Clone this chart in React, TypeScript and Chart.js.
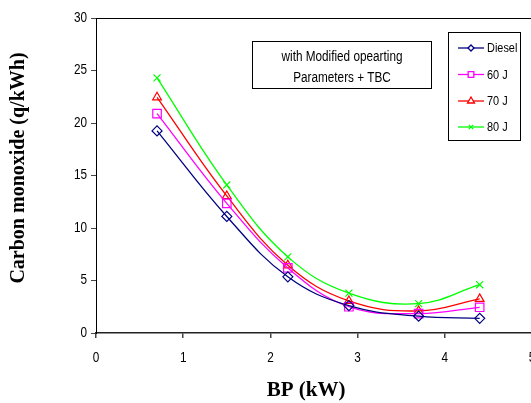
import React, { useEffect, useRef } from "react";
import { Chart, registerables } from "chart.js";
import { drawPoint } from "chart.js/helpers";

Chart.register(...registerables);

// ---- Data ----
const bp = [0.7, 1.5, 2.2, 2.9, 3.7, 4.4];
const diesel = [19.25, 11.1, 5.35, 2.6, 1.6, 1.4];
const j60 = [20.9, 12.35, 6.2, 2.5, 1.85, 2.45];
const j70 = [22.45, 13.05, 6.45, 3.05, 2.1, 3.25];
const j80 = [24.3, 14.1, 7.25, 3.8, 2.8, 4.6];
const seriesNames = ["Diesel", "60 J", "70 J", "80 J"];
const xTicks = [0, 1, 2, 3, 4, 5];
const yTicks = [0, 5, 10, 15, 20, 25, 30];
const annotationLines = ["with Modified opearting", "Parameters + TBC"];
const xTitle = "BP (kW)";
const yTitle = "Carbon monoxide (q/kWh)";

const SANS = "'Liberation Sans', Arial, sans-serif";
const SERIF = "'Liberation Serif', 'Times New Roman', serif";
const NARROW_SCALE = 0.84;

const styles = [
  { color: "#000080", pointStyle: "rectRot", radius: 5, legendRadius: 3 },
  { color: "#FF00FF", pointStyle: "rect", radius: 6, legendRadius: 4 },
  { color: "#FF0000", pointStyle: "triangle", radius: 5, legendRadius: 4 },
  { color: "#00FF00", pointStyle: "crossRot", radius: 5, legendRadius: 3 },
];

const seriesValues = [diesel, j60, j70, j80];

function narrowText(ctx: CanvasRenderingContext2D, text: string, x: number, y: number, align: CanvasTextAlign) {
  ctx.save();
  ctx.translate(x, y);
  ctx.scale(NARROW_SCALE, 1);
  ctx.textAlign = align;
  ctx.fillText(text, 0, 0);
  ctx.restore();
}

const overlayPlugin = {
  id: "overlay",
  afterDraw(chart: any) {
    const ctx = chart.ctx as CanvasRenderingContext2D;
    const a = chart.chartArea;
    const xs = chart.scales.x;
    const ys = chart.scales.y;
    ctx.save();
    // plot frame (top / right)
    ctx.strokeStyle = "#000";
    ctx.lineWidth = 1;
    ctx.beginPath();
    ctx.moveTo(a.left, a.top + 0.5);
    ctx.lineTo(a.right, a.top + 0.5);
    ctx.lineTo(a.right, a.bottom);
    ctx.stroke();

    // tick labels (narrow)
    ctx.fillStyle = "#000";
    ctx.font = `14px ${SANS}`;
    ctx.textBaseline = "middle";
    yTicks.forEach((v) => narrowText(ctx, String(v), 87, ys.getPixelForValue(v), "right"));
    xTicks.forEach((v) => narrowText(ctx, String(v), xs.getPixelForValue(v), 358, "center"));

    // axis titles
    ctx.font = `bold 21px ${SERIF}`;
    ctx.textAlign = "center";
    ctx.fillText(xTitle, 306, 391);
    ctx.save();
    ctx.translate(19, 168);
    ctx.rotate(-Math.PI / 2);
    ctx.font = `bold 20px ${SERIF}`;
    ctx.fillText(yTitle, 0, 0);
    ctx.restore();

    // annotation box
    ctx.lineWidth = 1;
    ctx.strokeStyle = "#000";
    ctx.fillStyle = "#fff";
    ctx.fillRect(252, 41, 180, 47);
    ctx.strokeRect(252.5, 41.5, 179, 47);
    ctx.fillStyle = "#000";
    ctx.font = `14px ${SANS}`;
    narrowText(ctx, annotationLines[0], 342, 57, "center");
    narrowText(ctx, annotationLines[1], 342, 78, "center");

    // legend box
    ctx.fillStyle = "#fff";
    ctx.fillRect(448, 32, 73, 109);
    ctx.strokeStyle = "#000";
    ctx.strokeRect(448.5, 32.5, 72, 108);
    const ly = [48, 74.5, 101, 127];
    ctx.font = `13px ${SANS}`;
    seriesNames.forEach((name, i) => {
      const s = styles[i];
      const y = ly[i];
      ctx.strokeStyle = s.color;
      ctx.lineWidth = 1.3;
      ctx.beginPath();
      ctx.moveTo(458, y);
      ctx.lineTo(484, y);
      ctx.stroke();
      ctx.fillStyle = "#fff";
      drawPoint(ctx, { pointStyle: s.pointStyle, radius: s.legendRadius, rotation: 0, borderWidth: 1.2 } as any, 471, y);
      ctx.fillStyle = "#000";
      narrowText(ctx, name, 487, y + 0.5, "left");
    });
    ctx.restore();
  },
};

export default function App() {
  const ref = useRef<HTMLCanvasElement | null>(null);
  useEffect(() => {
    if (!ref.current) return;
    const chart = new Chart(ref.current, {
      type: "line",
      data: {
        datasets: seriesNames.map((name, i) => ({
          label: name,
          data: bp.map((x, k) => ({ x, y: seriesValues[i][k] })),
          borderColor: styles[i].color,
          backgroundColor: "rgba(255,255,255,0)",
          pointBorderColor: styles[i].color,
          pointBackgroundColor: "rgba(255,255,255,0)",
          pointStyle: styles[i].pointStyle as any,
          pointRadius: styles[i].radius,
          pointBorderWidth: 1.2,
          borderWidth: 1.3,
          tension: 0.4,
          fill: false,
        })),
      },
      options: {
        animation: false,
        responsive: false,
        devicePixelRatio: 1,
        layout: { padding: { left: 0, top: 18, right: 8, bottom: 0 } },
        plugins: { legend: { display: false }, tooltip: { enabled: false } },
        scales: {
          x: {
            type: "linear",
            min: 0,
            max: 5,
            afterBuildTicks: (s: any) => { s.ticks = xTicks.map((v) => ({ value: v })); },
            afterFit: (s: any) => { s.height = 70; },
            grid: { drawOnChartArea: false, tickLength: 5, color: "#444", lineWidth: 1.5 },
            border: { color: "#222", width: 1.5 },
            ticks: { display: false },
          },
          y: {
            type: "linear",
            min: 0,
            max: 30,
            afterBuildTicks: (s: any) => { s.ticks = yTicks.map((v) => ({ value: v })); },
            afterFit: (s: any) => { s.width = 96; },
            grid: { drawOnChartArea: false, tickLength: 5, color: "#444", lineWidth: 1 },
            border: { color: "#000", width: 1 },
            ticks: { display: false },
          },
        },
      },
      plugins: [overlayPlugin],
    } as any);
    return () => chart.destroy();
  }, []);
  return (
    <div style={{ position: "fixed", left: 0, top: 0, width: 531, height: 403, overflow: "hidden", background: "#fff" }}>
      <canvas ref={ref} width={540} height={403} style={{ display: "block" }} />
    </div>
  );
}
